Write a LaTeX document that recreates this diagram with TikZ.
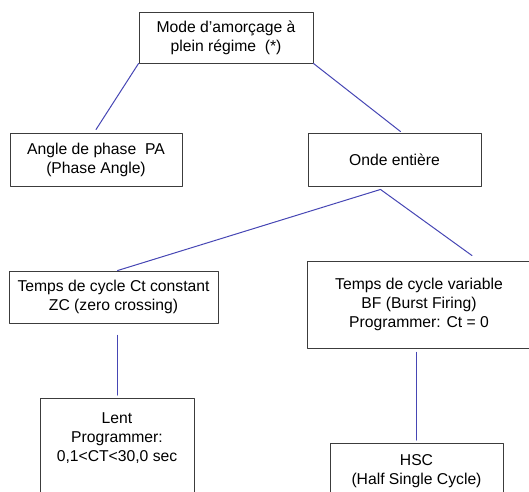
\documentclass[tikz,border=0pt]{standalone}
\usepackage{fontspec}
\setmainfont{Liberation Sans}
\definecolor{bleulien}{RGB}{70,70,180}
\definecolor{cadre}{RGB}{60,60,60}
\tikzset{
	boite/.style={draw=cadre, line width=0.9pt, inner sep=0pt, align=center, fill=white},
	texte/.style={inner sep=0pt, align=center},
	lien/.style={draw=bleulien, line width=1pt},
}
\begin{document}
\begin{tikzpicture}[x=1pt, y=-1pt, line join=round, line cap=round, font=\fontsize{15.7}{19}\selectfont]
			\useasboundingbox (0,0) rectangle (529,491);
			\clip (0,0) rectangle (529,491);
			% les cadres
			\node[boite, minimum width=174pt, minimum height=51pt] (mode) at (226,37.5) {Mode d’amorçage à\\plein régime\ \ (*)};
			\node[boite, minimum width=172pt, minimum height=53pt] (angle) at (96,159.5) {Angle de phase\ \ PA\\(Phase Angle)};
			\node[boite, minimum width=173pt, minimum height=53pt] (onde) at (394.5,159.5) {Onde entière};
			\node[boite, minimum width=209pt, minimum height=52pt] (ctconst) at (113.5,297) {Temps de cycle Ct constant\\ZC (zero crossing)};
			\node[boite, minimum width=224pt, minimum height=87pt] (ctvar) at (419,304.5) {Temps de cycle variable\\BF (Burst Firing)\\Programmer: Ct = 0};
			\node[boite, minimum width=154pt, minimum height=120pt, anchor=north] (lent) at (117,398) {};
			\node[texte, anchor=north] (lenttxt) at ([yshift=-14pt]lent.north) {Lent\\Programmer:\\0,1<CT<30,0 sec};
			\node[boite, minimum width=173pt, minimum height=80pt, anchor=north] (hsc) at (416.5,443) {};
			\node[texte, anchor=north] (hsctxt) at ([yshift=-11pt]hsc.north) {HSC\\(Half Single Cycle)};
			% les liens
			\draw[lien] (mode.south west) -- ([yshift=3pt]angle.north);
			\draw[lien] (mode.south east) -- ([xshift=6pt,yshift=1pt]onde.north);
			\draw[lien] ([xshift=-14pt,yshift=-3pt]onde.south) -- ([xshift=4pt]ctconst.north);
			\draw[lien] ([xshift=-14pt,yshift=-3pt]onde.south) -- ([xshift=53pt,yshift=5pt]ctvar.north);
			\draw[lien] ([yshift=3pt]lent.north) -- ([yshift=-12pt]lent.north |- ctconst.south);
			\draw[lien] ([yshift=3pt]hsc.north) -- ([yshift=-4pt]hsc.north |- ctvar.south);
\end{tikzpicture}
\end{document}
